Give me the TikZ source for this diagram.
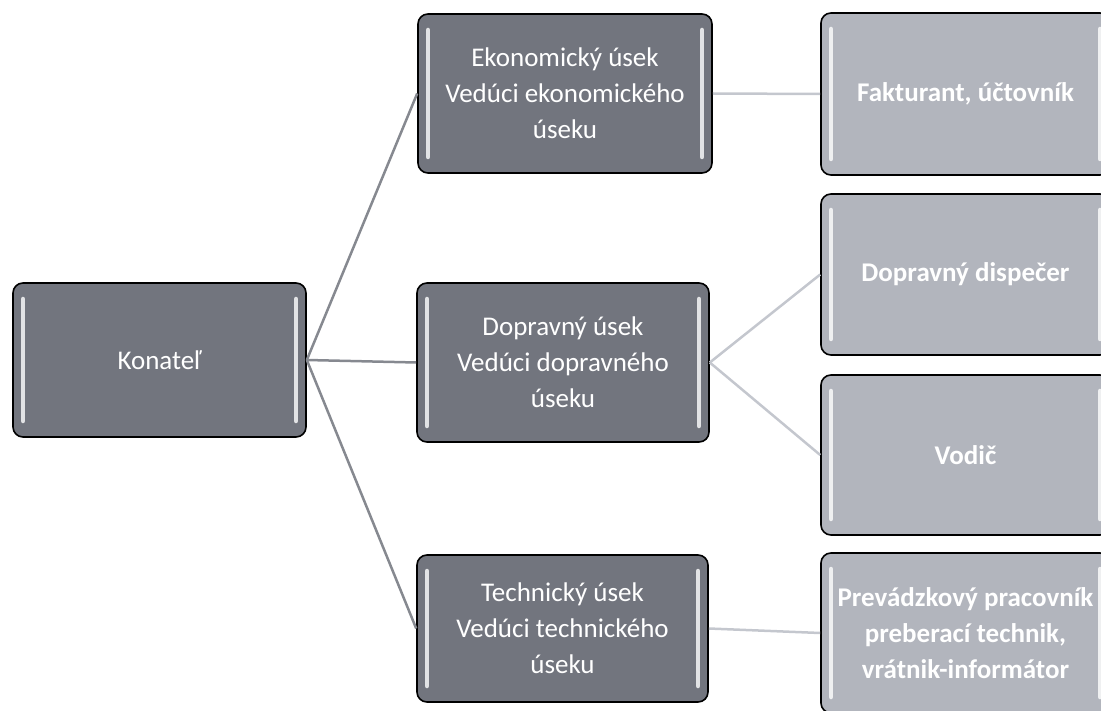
\documentclass[tikz,border=0pt]{standalone}
\usepackage{fontspec}
\setmainfont{Carlito}
\definecolor{headgray}{RGB}{114,117,126}
\definecolor{staffgray}{RGB}{178,181,189}
\definecolor{linkdark}{RGB}{134,137,144}
\definecolor{linklight}{RGB}{196,199,206}
\tikzset{
    unitbox/.style={rectangle, rounded corners=10pt, draw=black, line width=1.6pt,
        text=white, align=center, inner sep=0pt,
        path picture={
            \draw[white, line width=4.5pt, line cap=round, opacity=0.8]
                ([xshift=10pt,yshift=-16pt]path picture bounding box.north west)
                -- ([xshift=10pt,yshift=16pt]path picture bounding box.south west);
            \draw[white, line width=4.5pt, line cap=round, opacity=0.8]
                ([xshift=-10pt,yshift=-16pt]path picture bounding box.north east)
                -- ([xshift=-10pt,yshift=16pt]path picture bounding box.south east);
        }},
    headbox/.style={unitbox, fill=headgray, font=\fontsize{27}{36}\selectfont},
    staffbox/.style={unitbox, fill=staffgray, font=\fontsize{27}{36}\selectfont\bfseries},
}
\begin{document}
\begin{tikzpicture}[x=1pt, y=-1pt]
            \useasboundingbox (0,0) rectangle (1101,711);
            \clip (0,0) rectangle (1101,711);

            % left and middle column
            \node[headbox, minimum width=293pt, minimum height=154pt] (konatel) at (159.5,360) {Konateľ};
            \node[headbox, minimum width=294pt, minimum height=159pt] (ekon) at (565,93.5) {Ekonomický úsek\\ Vedúci ekonomického\\ úseku};
            \node[headbox, minimum width=292pt, minimum height=159pt] (doprav) at (563,362.5) {Dopravný úsek\\ Vedúci dopravného\\ úseku};
            \node[headbox, minimum width=291pt, minimum height=147pt] (tech) at (562.5,628.5) {Technický úsek\\ Vedúci technického\\ úseku};

            % right column (runs past the page edge)
            \node[staffbox, minimum width=289pt, minimum height=162pt] (faktur) at (965.5,94) {Fakturant, účtovník};
            \node[staffbox, minimum width=289pt, minimum height=161pt] (dispecer) at (965.5,274.5) {Dopravný dispečer};
            \node[staffbox, minimum width=289pt, minimum height=160pt] (vodic) at (965.5,455) {Vodič};
            \node[staffbox, minimum width=289pt, minimum height=160pt] (prevadz) at (965.5,633) {Prevádzkový pracovník\\ preberací technik,\\ vrátnik-informátor};

            \draw[linkdark, line width=2.5pt] (konatel.east) -- (ekon.west);
            \draw[linkdark, line width=2.5pt] (konatel.east) -- (doprav.west);
            \draw[linkdark, line width=2.5pt] (konatel.east) -- (tech.west);

            \draw[linklight, line width=2.5pt] (ekon.east) -- (faktur.west);
            \draw[linklight, line width=2.5pt] (doprav.east) -- (dispecer.west);
            \draw[linklight, line width=2.5pt] (doprav.east) -- (vodic.west);
            \draw[linklight, line width=2.5pt] (tech.east) -- (prevadz.west);

        \end{tikzpicture}
\end{document}
